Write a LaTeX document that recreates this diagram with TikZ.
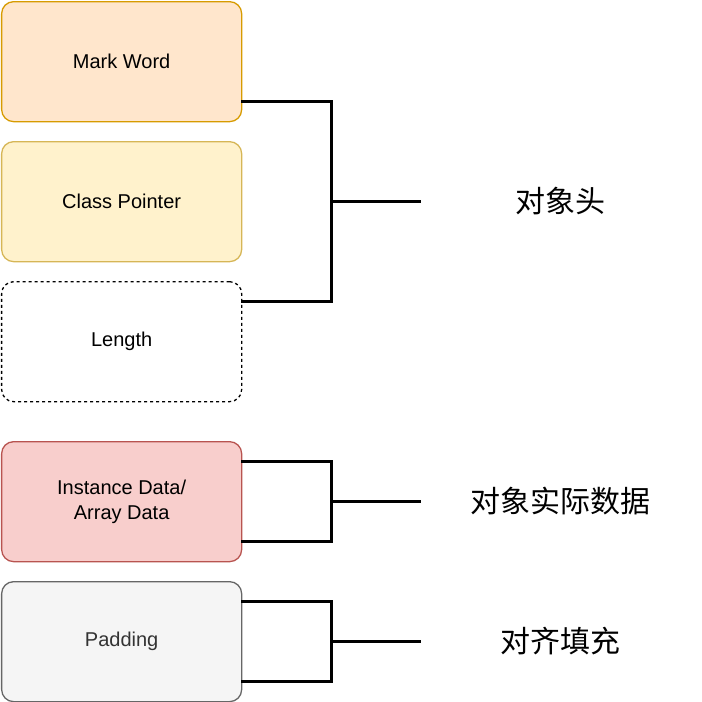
\documentclass[tikz,border=0pt]{standalone}
\usepackage{fontspec}
\setmainfont{Liberation Sans}
\newfontfamily\cjk{Noto Sans CJK SC}
\definecolor{mwF}{HTML}{FFE6CC}\definecolor{mwD}{HTML}{D79B00}
\definecolor{cpF}{HTML}{FFF2CC}\definecolor{cpD}{HTML}{D6B656}
\definecolor{idF}{HTML}{F8CECC}\definecolor{idD}{HTML}{B85450}
\definecolor{pdF}{HTML}{F5F5F5}\definecolor{pdD}{HTML}{666666}
\definecolor{pdT}{HTML}{333333}
\begin{document}
\begin{tikzpicture}[x=1pt,y=-1pt,
  box/.style={draw,rounded corners=12pt,minimum width=240pt,minimum height=120pt,line width=1.3pt,anchor=north west,inner sep=0pt,font=\fontsize{20}{25}\selectfont,align=center},
  br/.style={line width=3pt,black},
  lab/.style={font=\cjk\fontsize{30}{36}\selectfont}]
\useasboundingbox (0,0) rectangle (702,702);
\node[box,fill=mwF,draw=mwD] (mw) at (1,1) {Mark Word};
\node[box,fill=cpF,draw=cpD] (cp) at (1,141) {Class Pointer};
\node[box,draw=black,dashed,fill=white] (ln) at (1,281) {Length};
\node[box,fill=idF,draw=idD] (id) at (1,441) {Instance Data/\\Array Data};
\node[box,fill=pdF,draw=pdD,text=pdT] (pd) at (1,581) {Padding};
\coordinate (a1) at (241,101); \coordinate (a2) at (241,301);
\coordinate (b1) at (241,461); \coordinate (b2) at (241,541);
\coordinate (c1) at (241,601); \coordinate (c2) at (241,681);
\coordinate (am) at (331,201); \coordinate (bm) at (331,501); \coordinate (cm) at (331,641);
\coordinate (ae) at (421,201); \coordinate (be) at (421,501); \coordinate (ce) at (421,641);
\draw[br] (a1) -| (am) |- (a2); \draw[br] (am) -- (ae);
\draw[br] (b1) -| (bm) |- (b2); \draw[br] (bm) -- (be);
\draw[br] (c1) -| (cm) |- (c2); \draw[br] (cm) -- (ce);
\node[lab] (t1) at (560,201) {对象头};
\node[lab] (t2) at (560,501) {对象实际数据};
\node[lab] (t3) at (560,641) {对齐填充};
\end{tikzpicture}
\end{document}
